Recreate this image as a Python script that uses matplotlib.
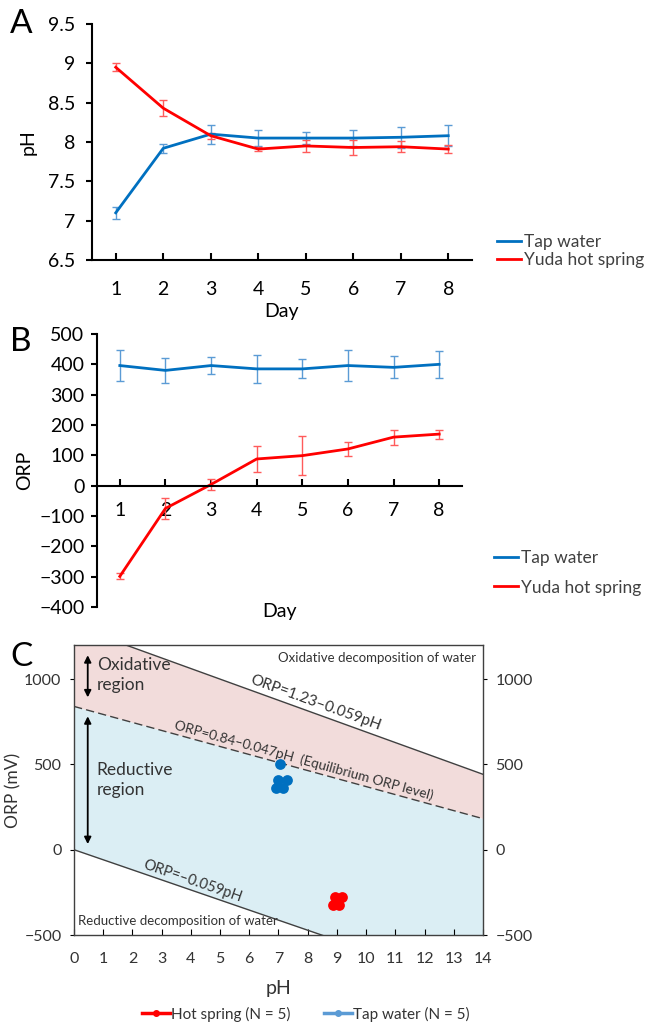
import numpy as np
import matplotlib.pyplot as plt
from matplotlib.lines import Line2D

plt.rcParams['font.family'] = ['Lato', 'DejaVu Sans']

# --- data ---
days = [1, 2, 3, 4, 5, 6, 7, 8]

ph_tap = [7.10, 7.92, 8.10, 8.05, 8.05, 8.05, 8.06, 8.08]
ph_tap_err = [0.08, 0.06, 0.12, 0.10, 0.08, 0.10, 0.13, 0.13]
ph_spring = [8.95, 8.43, 8.08, 7.91, 7.95, 7.93, 7.94, 7.91]
ph_spring_err = [0.05, 0.10, 0.04, 0.03, 0.08, 0.10, 0.07, 0.05]

orp_tap = [396, 380, 396, 385, 385, 396, 390, 400]
orp_tap_err = [52, 40, 29, 46, 31, 52, 36, 44]
orp_spring = [-299, -75, 4, 88, 99, 121, 160, 170]
orp_spring_err = [10, 35, 17, 43, 64, 23, 25, 15]

# panel C: lines ORP = a + b*pH (mV)
upper_a, upper_b = 1310, -62
equil_a, equil_b = 840, -47
lower_a, lower_b = 0, -59

tap_pts_ph = [7.05, 7.00, 7.30, 6.92, 7.14]
tap_pts_orp = [505, 408, 410, 363, 363]
spring_pts_ph = [8.93, 9.16, 8.86, 9.08, 9.00]
spring_pts_orp = [-275, -280, -323, -327, -310]

BLUE = '#0070C0'
RED = '#FF0000'
BLUE_E = '#5B9BD5'
RED_E = '#FF5B5B'
TXT = '#333333'

W, H = 664, 1022
fig = plt.figure(figsize=(W / 100, H / 100), dpi=100)


def box(l, t, r, b):
    return [l / W, 1 - b / H, (r - l) / W, (b - t) / H]


# ---------------- A ----------------
ax = fig.add_axes(box(92, 24, 472, 260))
ax.errorbar(days, ph_tap, yerr=ph_tap_err, color=BLUE, lw=2, ecolor=BLUE_E,
            elinewidth=1, capsize=3, capthick=1)
ax.errorbar(days, ph_spring, yerr=ph_spring_err, color=RED, lw=2, ecolor=RED_E,
            elinewidth=1, capsize=3, capthick=1)
ax.set_xlim(0.5, 8.5)
ax.set_ylim(6.5, 9.5)
ax.set_yticks([6.5, 7, 7.5, 8, 8.5, 9, 9.5])
ax.set_yticklabels(['6.5', '7', '7.5', '8', '8.5', '9', '9.5'])
ax.set_xticks(days)
for s in ['top', 'right']:
    ax.spines[s].set_visible(False)
for s in ['left', 'bottom']:
    ax.spines[s].set_linewidth(1.5)
ax.tick_params(axis='x', direction='in', length=5, width=1.5, pad=15, labelsize=14)
ax.tick_params(axis='y', direction='out', length=4, width=1.5, pad=8, labelsize=14)
ax.set_xlabel('Day', fontsize=14, labelpad=4)
ax.set_ylabel('pH', fontsize=14, labelpad=8)
fig.text(10 / W, 1 - 24 / H, 'A', fontsize=24, va='center', ha='left')
hA = [Line2D([], [], color=BLUE, lw=2), Line2D([], [], color=RED, lw=2)]
fig.legend(hA, ['Tap water', 'Yuda hot spring'], loc='center left',
           bbox_to_anchor=(481 / W, 1 - 251 / H), frameon=False, fontsize=12.5,
           handlelength=1.4, handletextpad=0.15, labelspacing=0.1, labelcolor='#404040')

# ---------------- B ----------------
bx = fig.add_axes(box(97, 334, 462, 607))
bx.errorbar(days, orp_tap, yerr=orp_tap_err, color=BLUE, lw=2, ecolor=BLUE_E,
            elinewidth=1, capsize=3, capthick=1)
bx.errorbar(days, orp_spring, yerr=orp_spring_err, color=RED, lw=2, ecolor=RED_E,
            elinewidth=1, capsize=3, capthick=1)
bx.set_xlim(0.5, 8.5)
bx.set_ylim(-400, 500)
bx.set_yticks(np.arange(-400, 501, 100))
bx.set_xticks(days)
for s in ['top', 'right']:
    bx.spines[s].set_visible(False)
for s in ['left', 'bottom']:
    bx.spines[s].set_linewidth(1.5)
bx.spines['bottom'].set_position(('data', 0))
bx.tick_params(axis='x', direction='in', length=5, width=1.5, pad=12, labelsize=14)
bx.tick_params(axis='y', direction='out', length=4, width=1.5, pad=5, labelsize=14)
bx.set_ylabel('ORP', fontsize=14, labelpad=4)
fig.text(280 / W, 1 - 611 / H, 'Day', fontsize=14, ha='center', va='center')
fig.text(10 / W, 1 - 342 / H, 'B', fontsize=24, va='center', ha='left')
fig.legend(hA, ['Tap water', 'Yuda hot spring'], loc='center left',
           bbox_to_anchor=(478 / W, 1 - 573 / H), frameon=False, fontsize=12.5,
           handlelength=1.4, handletextpad=0.15, labelspacing=0.75, labelcolor='#404040')

# ---------------- C ----------------
cx = fig.add_axes(box(74, 645, 483, 935))
x = np.linspace(0, 14, 200)
up = upper_a + upper_b * x
eq = equil_a + equil_b * x
lo = lower_a + lower_b * x
top = 1200
cx.fill_between(x, eq, np.minimum(up, top), color='#F2DCDB', lw=0)
cx.fill_between(x, np.maximum(lo, -500), eq, color='#DBEEF4', lw=0)
cx.plot(x, up, color='#404040', lw=1)
cx.plot(x, eq, color='#404040', lw=1, ls=(0, (6, 3)))
cx.plot(x, lo, color='#404040', lw=1)
cx.scatter(tap_pts_ph, tap_pts_orp, s=60, color=BLUE, zorder=3, lw=0)
cx.scatter(spring_pts_ph, spring_pts_orp, s=60, color=RED, zorder=3, lw=0)
cx.set_xlim(0, 14)
cx.set_ylim(-500, 1200)
cx.set_xticks(range(0, 15))
cx.set_yticks([-500, 0, 500, 1000])
for s in cx.spines.values():
    s.set_color('#404040')
    s.set_linewidth(1)
cx.tick_params(axis='x', direction='in', length=4, pad=12, labelsize=11.5,
               labelcolor=TXT)
cx.tick_params(axis='y', direction='out', length=3, pad=6, labelsize=11.5,
               right=True, labelright=True, labelcolor=TXT)
cx.set_xlabel('pH', fontsize=14, labelpad=10, color=TXT)
cx.set_ylabel('ORP (mV)', fontsize=12.5, labelpad=2, color=TXT)
fig.text(10 / W, 1 - 657 / H, 'C', fontsize=24, va='center', ha='left')

# arrows
cx.annotate('', xy=(0.47, 893), xytext=(0.47, 1140),
            arrowprops=dict(arrowstyle='<|-|>', color='black', lw=1.3,
                            mutation_scale=10, shrinkA=0, shrinkB=0))
cx.annotate('', xy=(0.47, 33), xytext=(0.47, 782),
            arrowprops=dict(arrowstyle='<|-|>', color='black', lw=1.3,
                            mutation_scale=10, shrinkA=0, shrinkB=0))
cx.text(0.78, 1022, 'Oxidative\nregion', fontsize=12.5, va='center', ha='left',
        color=TXT, linespacing=1.3)
cx.text(0.78, 410, 'Reductive\nregion', fontsize=12.5, va='center', ha='left',
        color=TXT, linespacing=1.3)
cx.text(13.75, 1125, 'Oxidative decomposition of water', fontsize=9.5,
        ha='right', va='center', color=TXT)
cx.text(0.15, -420, 'Reductive decomposition of water', fontsize=9.5,
        ha='left', va='center', color=TXT)


def angle(b):
    p = cx.transData.transform([(0, 0), (1, b)])
    d = p[1] - p[0]
    return np.degrees(np.arctan2(d[1], d[0]))


cx.text(8.2, upper_a + upper_b * 8.2 + 20, 'ORP=1.23\u20130.059pH', fontsize=11,
        rotation=angle(upper_b), rotation_mode='anchor', ha='center', va='bottom',
        color=TXT)
cx.text(7.8, equil_a + equil_b * 7.8 + 15, 'ORP=0.84\u20130.047pH  (Equilibrium ORP level)',
        fontsize=9.8, rotation=angle(equil_b), rotation_mode='anchor',
        ha='center', va='bottom', color=TXT)
cx.text(4.0, lower_a + lower_b * 4.0 + 15, 'ORP=\u20130.059pH', fontsize=10.5,
        rotation=angle(lower_b), rotation_mode='anchor', ha='center', va='bottom',
        color=TXT)

hC = [Line2D([], [], color=RED, lw=2.5, marker='o', ms=4),
      Line2D([], [], color=BLUE_E, lw=2.5, marker='o', ms=4)]
fig.legend(hC, ['Hot spring (N = 5)', 'Tap water (N = 5)'], loc='center',
           bbox_to_anchor=(306 / W, 1 - 1014 / H), ncol=2, frameon=False,
           fontsize=11, handlelength=1.8, handletextpad=0.1, columnspacing=2.2,
           labelcolor=TXT)

fig.savefig('out.png', dpi=100)
